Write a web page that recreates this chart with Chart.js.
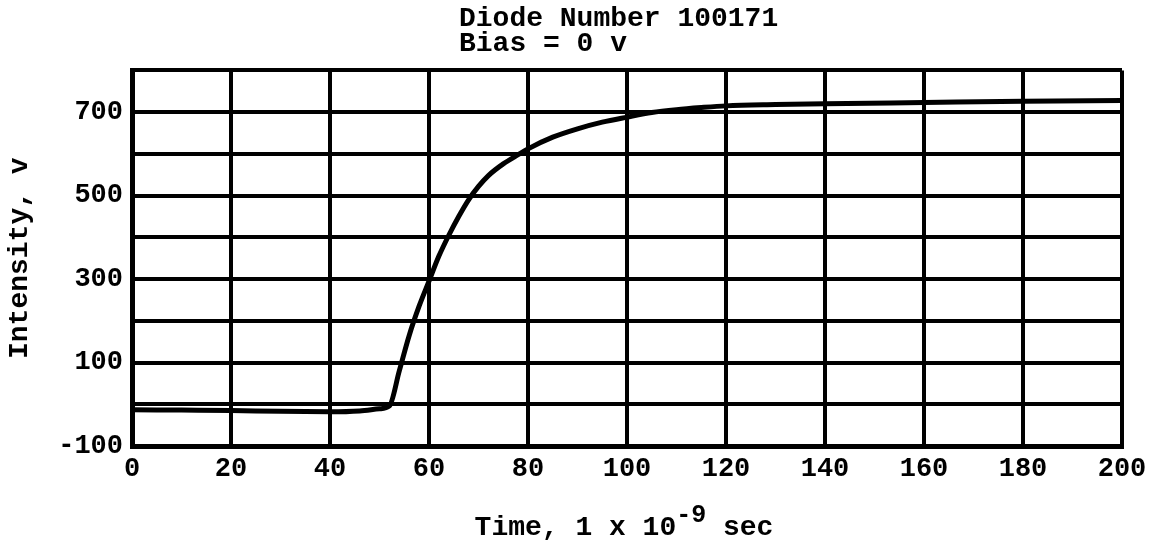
<!DOCTYPE html>
<html>
<head>
<meta charset="utf-8">
<script src="https://cdn.jsdelivr.net/npm/chart.js@4.4.1/dist/chart.umd.min.js"></script>
<style>
  html, body { margin: 0; padding: 0; background: #fff; }
  #wrap { width: 1159px; height: 540px; }
</style>
</head>
<body>
<div id="wrap"><canvas id="diodeChart"></canvas></div>
<script>
// time in ns, intensity in v
let timeNs =     [0,   10,  20,  30,  40,  46,  50,  52, 54, 56,  58,  60,  62,  64,  66,  68,  70,  72,  75,  78,  80,  85,  90,  95, 100, 105, 110, 115, 120, 130, 140, 160, 180, 200];
let intensityV = [-13, -14, -15, -17, -18, -16, -11, -4, 80, 165, 235, 295, 355, 405, 450, 490, 522, 548, 576, 598, 612, 640, 660, 676, 688, 699, 706, 711, 715, 718, 720, 723, 726, 728];
let yTickLabels = [-100, 100, 300, 500, 700];
// trailing spaces keep both lines flush left in the mono font
let titleLines = ['Diode Number 100171 ', 'Bias = 0 v          '];

let monoFont = '"Liberation Mono", "Courier New", monospace';

let points = timeNs.map((t, i) => ({ x: t, y: intensityV[i] }));

// x axis title needs a real superscript, so it is drawn here
const xTitlePlugin = {
    id: 'xTitle',
    afterDraw(chart) {
        const c = chart.ctx;
        const a = chart.chartArea;
        const main = 'Time, 1 x 10';
        const sup = '-9';
        const tail = ' sec';
        const big = 'bold 28px ' + monoFont;
        const small = 'bold 25px ' + monoFont;
        c.save();
        c.fillStyle = '#000';
        c.textAlign = 'left';
        c.textBaseline = 'alphabetic';
        c.font = big;
        const wMain = c.measureText(main).width;
        const wTail = c.measureText(tail).width;
        c.font = small;
        const wSup = c.measureText(sup).width;
        const total = wMain + wSup + wTail;
        let x = (a.left + a.right) / 2 - 3 - total / 2;
        const base = a.bottom + 89;
        c.font = big;
        c.fillText(main, x, base);
        x += wMain;
        c.font = small;
        c.fillText(sup, x, base - 13);
        x += wSup;
        c.font = big;
        c.fillText(tail, x, base);
        c.restore();
    }
};

let ctx = document.getElementById('diodeChart').getContext('2d');
let diodeChart = new Chart(ctx, {
    type: 'line',
    data: {
        datasets: [{
            label: 'Intensity',
            data: points,
            borderColor: '#000',
            borderWidth: 5,
            pointRadius: 0,
            fill: false,
            tension: 0.4,
            cubicInterpolationMode: 'monotone'
        }]
    },
    options: {
        responsive: true,
        maintainAspectRatio: false,
        animation: false,
        layout: { padding: { left: 0, right: 37, top: 0, bottom: 0 } },
        plugins: {
            legend: { display: false },
            tooltip: { enabled: false },
            title: {
                display: true,
                text: titleLines,
                fullSize: false,
                color: '#000',
                font: { family: monoFont, size: 28, weight: 'bold', lineHeight: 0.9 },
                padding: { top: 6, bottom: 14 }
            }
        },
        scales: {
            x: {
                type: 'linear',
                min: 0,
                max: 200,
                afterFit: s => { s.height = 94; },
                grid: { color: '#000', lineWidth: 4, drawTicks: false },
                border: { color: '#000', width: 5 },
                ticks: {
                    stepSize: 20,
                    autoSkip: false,
                    maxRotation: 0,
                    padding: 7,
                    color: '#000',
                    font: { family: monoFont, size: 27, weight: 'bold' }
                }
            },
            y: {
                min: -100,
                max: 800,
                afterFit: s => { s.width = 132; },
                grid: { color: '#000', lineWidth: 4, drawTicks: false },
                border: { color: '#000', width: 5 },
                ticks: {
                    stepSize: 100,
                    autoSkip: false,
                    padding: 9,
                    color: '#000',
                    font: { family: monoFont, size: 27, weight: 'bold' },
                    callback: v => yTickLabels.includes(v) ? String(v) : ''
                },
                title: {
                    display: true,
                    text: 'Intensity, v',
                    color: '#000',
                    font: { family: monoFont, size: 28, weight: 'bold' },
                    padding: { top: 3, bottom: 0 }
                }
            }
        }
    },
    plugins: [xTitlePlugin]
});
</script>
</body>
</html>
